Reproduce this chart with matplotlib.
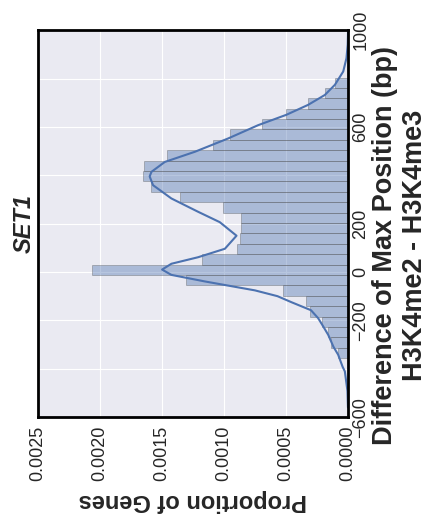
import numpy as np
import matplotlib
matplotlib.use("Agg")
import matplotlib.pyplot as plt
import seaborn as sns

# histogram of max-position differences (bp): density per bin, lowest bin first
bin_start = -356
bin_end = 804
bin_density = [0.081e-3, 0.137e-3, 0.165e-3, 0.210e-3, 0.309e-3, 0.339e-3,
               0.528e-3, 1.307e-3, 2.065e-3, 1.181e-3, 0.893e-3, 0.873e-3,
               0.860e-3, 0.860e-3, 1.008e-3, 1.355e-3, 1.591e-3, 1.653e-3,
               1.645e-3, 1.464e-3, 1.089e-3, 0.952e-3, 0.694e-3, 0.500e-3,
               0.323e-3, 0.183e-3, 0.105e-3]

# kernel density estimate of the same differences
kde_bp = [-560, -492, -411, -392, -342, -309, -260, -227, -191, -158, -125,
          -100, -76, -39, -12, 10, 34, 61, 96, 150, 206, 249, 304, 359, 395,
          414, 455, 497, 552, 607, 650, 691, 732, 774, 829, 884, 940, 1000]
kde_density = [0.002e-3, 0.006e-3, 0.027e-3, 0.045e-3, 0.081e-3, 0.119e-3,
               0.161e-3, 0.199e-3, 0.242e-3, 0.300e-3, 0.457e-3, 0.570e-3,
               0.752e-3, 1.156e-3, 1.425e-3, 1.500e-3, 1.425e-3, 1.210e-3,
               0.994e-3, 0.900e-3, 1.035e-3, 1.210e-3, 1.425e-3, 1.573e-3,
               1.600e-3, 1.586e-3, 1.478e-3, 1.236e-3, 0.968e-3, 0.726e-3,
               0.498e-3, 0.323e-3, 0.188e-3, 0.107e-3, 0.040e-3, 0.014e-3,
               0.004e-3, 0.001e-3]

prop_ticks = [0.0, 0.0005, 0.0010, 0.0015, 0.0020, 0.0025]
diff_ticks = [-600, -400, -200, 0, 200, 400, 600, 800, 1000]
diff_labels = ["\u2212600", "", "\u2212200", "0", "200", "", "600", "", "1000"]

sns.set_style("darkgrid")
plt.rcParams["font.family"] = ["Liberation Sans", "DejaVu Sans"]

fig = plt.figure(figsize=(4.32, 5.24), dpi=100)
ax = fig.add_axes([0.088, 0.204, 0.718, 0.7385])

# the distribution is drawn sideways: bp along the vertical axis
edges = np.linspace(bin_start, bin_end, len(bin_density) + 1)
ax.barh(edges[:-1], bin_density, height=np.diff(edges), align="edge",
        color="#4C72B0", alpha=0.4, edgecolor="0.3", linewidth=0.6)
ax.plot(kde_density, kde_bp, color="#4C72B0", lw=1.5)

ax.set_xlim(0.0025, 0)
ax.set_ylim(-600, 1000)

ax.set_xticks(prop_ticks)
ax.set_xticklabels([f"{v:.4f}" for v in prop_ticks])
ax.tick_params(axis="x", labelrotation=90, labelsize=13, pad=6, length=0)

ax.yaxis.tick_right()
ax.set_yticks(diff_ticks)
ax.set_yticklabels(diff_labels)
ax.tick_params(axis="y", labelrotation=90, labelsize=13, pad=3, length=0)
for lbl in ax.get_yticklabels():
    lbl.set_va("center")

ax.set_xlabel("Proportion of Genes", fontsize=17, fontweight="bold",
              rotation=180, labelpad=6)
ax.yaxis.set_label_position("right")
ax.set_ylabel("Difference of Max Position (bp)\nH3K4me2 - H3K4me3",
              fontsize=19.5, fontweight="bold")
ax.yaxis.set_label_coords(1.076, 0.444)

ax.text(-0.045, 0.5, "SET1", transform=ax.transAxes, rotation=90,
        fontsize=17, fontweight="bold", fontstyle="italic",
        ha="center", va="center")

for sp in ax.spines.values():
    sp.set_visible(True)
    sp.set_color("black")
    sp.set_linewidth(2)

fig.savefig("out.png", dpi=100)
